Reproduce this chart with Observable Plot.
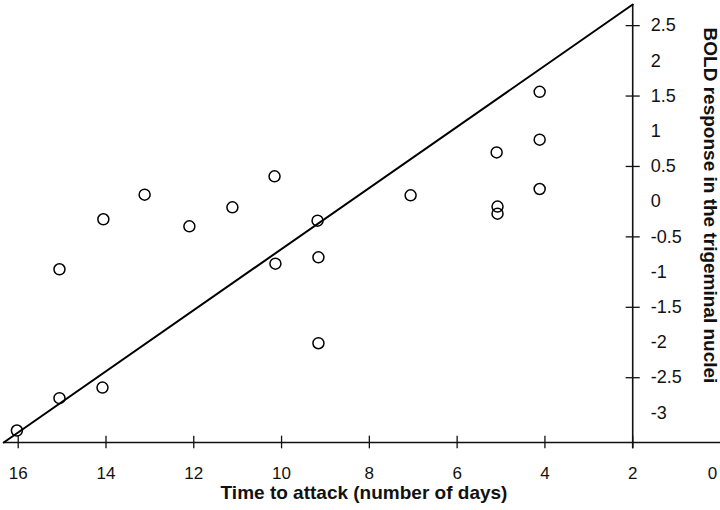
<!DOCTYPE html>
<html>
<head>
<meta charset="utf-8">
<script src="https://cdn.jsdelivr.net/npm/d3@7"></script>
<script src="https://cdn.jsdelivr.net/npm/@observablehq/plot@0.6"></script>
<style>
  html, body { margin: 0; padding: 0; background: #fff; }
  #chart svg { display: block; }
</style>
</head>
<body>
<div id="chart"></div>
<script>
// Data
const daysToAttack = [16.03, 15.06, 14.08, 15.06, 14.06, 13.12, 12.10, 11.12, 10.16, 9.18, 10.14, 9.16, 9.16, 7.06, 5.10, 5.08, 5.08, 4.12, 4.12, 4.12];
const boldResponse = [-3.25, -2.79, -2.64, -0.96, -0.25, 0.10, -0.35, -0.08, 0.36, -0.27, -0.88, -0.79, -2.01, 0.09, 0.70, -0.07, -0.17, 1.56, 0.88, 0.18];

// Regression line end points
const fitX = [16.33, 2];
const fitY = [-3.42, 2.80];

// Axis ticks / labels
const xTicks = [16, 14, 12, 10, 8, 6, 4, 2];
const xEndLabel = [0];
const yLabelValues = [2.5, 2, 1.5, 1, 0.5, 0, -0.5, -1, -1.5, -2, -2.5, -3];
const yTickMarks = [2.5, 1.5, 0.5, -0.5, -1.5, -2.5];
const xTitle = "Time to attack (number of days)";
const yTitle = "BOLD response in the trigeminal nuclei";

const xDomain = [16.335, 0];
const yDomain = [-3.42, 2.80];
const yAxisAt = 2;
const xAxisAt = yDomain[0];

const points = daysToAttack.map((d, i) => ({x: d, y: boldResponse[i]}));
const fit = fitX.map((d, i) => ({x: d, y: fitY[i]}));

const font = "Liberation Sans, Arial, sans-serif";

const chart = Plot.plot({
  width: 720,
  height: 510,
  marginTop: 4,
  marginBottom: 68,
  marginLeft: 3,
  marginRight: 0,
  style: {fontFamily: font, background: "#fff", color: "#111"},
  x: {domain: xDomain, axis: null},
  y: {domain: yDomain, axis: null},
  marks: [
    // x axis line
    Plot.ruleY([xAxisAt], {stroke: "#111", strokeWidth: 1.6}),
    // y axis line
    Plot.ruleX([yAxisAt], {y1: yDomain[1], y2: xAxisAt - 0.09, stroke: "#111", strokeWidth: 1.6}),
    // x ticks crossing axis
    Plot.ruleX(xTicks, {y1: xAxisAt - 0.09, y2: xAxisAt + 0.09, stroke: "#111", strokeWidth: 1.3}),
    // y ticks crossing axis
    Plot.link(yTickMarks, {x1: yAxisAt + 0.16, x2: yAxisAt - 0.16, y1: d => d, y2: d => d, stroke: "#111", strokeWidth: 1.3}),
    // x tick labels
    Plot.text(xTicks, {x: d => d, y: xAxisAt, dy: 31, text: d => String(d), fontSize: 17, fill: "#111"}),
    Plot.text(xEndLabel, {x: d => d, y: xAxisAt, dy: 31, dx: -8, text: d => String(d), fontSize: 17, fill: "#111"}),
    // y tick labels
    Plot.text(yLabelValues, {x: yAxisAt, y: d => d, dx: 18, textAnchor: "start", text: d => String(d), fontSize: 18, fill: "#111"}),
    // regression line
    Plot.line(fit, {x: "x", y: "y", stroke: "#000", strokeWidth: 2}),
    // data points
    Plot.dot(points, {x: "x", y: "y", r: 5.5, stroke: "#000", strokeWidth: 1.5, fill: "none"}),
    // titles
    Plot.text([xTitle], {frameAnchor: "bottom", dy: 56, dx: 2, fontSize: 19, fontWeight: "bold", fill: "#111"}),
    Plot.text([yTitle], {frameAnchor: "right", textAnchor: "middle", rotate: 90, dx: -10, dy: -18, fontSize: 19, fontWeight: "bold", fill: "#111"})
  ]
});

document.getElementById("chart").appendChild(chart);
</script>
</body>
</html>
